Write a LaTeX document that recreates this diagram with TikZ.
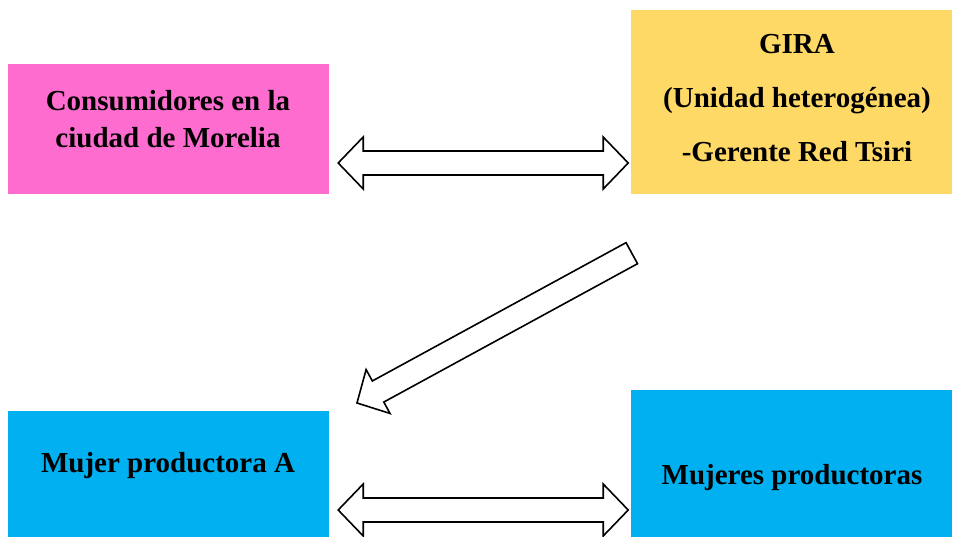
\documentclass[tikz,border=0pt]{standalone}
\usepackage{fontspec}
\setmainfont{Liberation Serif}
\definecolor{pinkbox}{HTML}{FF6CD0}
\definecolor{yellowbox}{HTML}{FFD966}
\definecolor{bluebox}{HTML}{00B0F0}
\tikzset{box/.style={rectangle,inner sep=0pt,minimum width=321pt},
    lbl/.style={align=center,inner sep=0pt,font=\bfseries\fontsize{29}{37}\selectfont},
    blockarrow/.style={draw=black,line width=1.6pt,fill=white,line join=miter}}
\begin{document}
\begin{tikzpicture}[x=1pt,y=-1pt,
pics/dblarrow/.style={code={% tips at (0,0) and (290,0)
    \draw[blockarrow] (0,0) -- (25,-26) -- (25,-12) -- (265,-12) -- (265,-26)
      -- (290,0) -- (265,26) -- (265,12) -- (25,12) -- (25,26) -- cycle;}},
pics/sglarrow/.style={code={% tip at (0,0)
    \draw[blockarrow] (0,0) -- (24,-25) -- (24,-12) -- (313,-12) -- (313,12)
      -- (24,12) -- (24,25) -- cycle;}}]
      \useasboundingbox (0,0) rectangle (957,537);
      % boxes
      \node[box,fill=pinkbox,minimum height=130pt] (cons) at (168.5,129) {};
      \node[box,fill=yellowbox,minimum height=184pt] (gira) at (791.5,102) {};
      \node[box,fill=bluebox,minimum height=126pt] (mujA) at (168.5,474) {};
      \node[box,fill=bluebox,minimum height=147pt] (mujs) at (791.5,463.5) {};
      % texts
      \node[lbl] (cons-t) at (168,119) {Consumidores en la\\ciudad de Morelia};
      \node[lbl,font=\bfseries\fontsize{29}{54}\selectfont] (gira-t) at (797,98)
        {GIRA\\(Unidad heterogénea)\\-Gerente Red Tsiri};
      \node[lbl] (mujA-t) at (168,466) {Mujer productora A};
      \node[lbl] (mujs-t) at (792,478) {Mujeres productoras};
      % arrows
      \pic at ([xshift=9pt,yshift=-34pt]cons.east) {dblarrow};
      \pic at ([xshift=9pt,yshift=-36pt]mujA.east) {dblarrow};
      \pic[rotate=28.6] at (357,403) {sglarrow};
\end{tikzpicture}
\end{document}
